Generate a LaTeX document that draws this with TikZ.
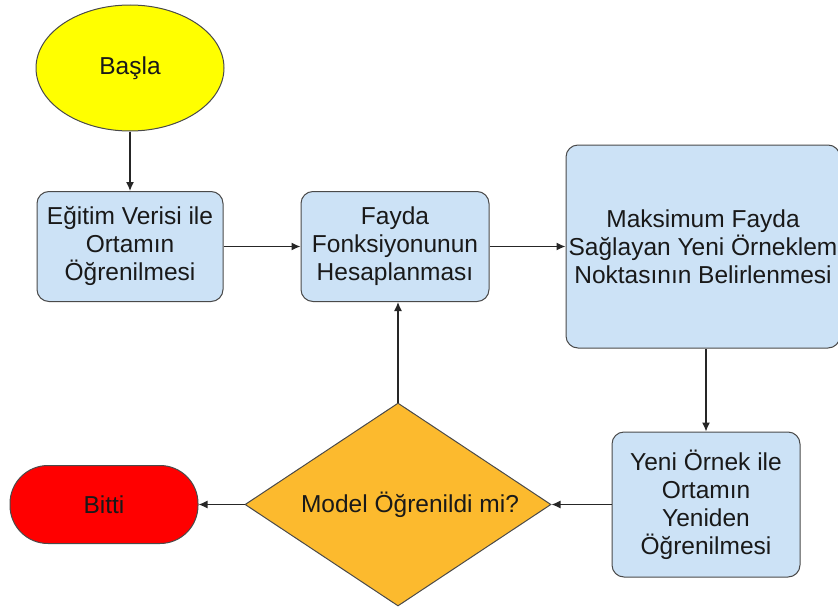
\documentclass[tikz,border=0pt]{standalone}
\usepackage{fontspec}
\setmainfont{Liberation Sans}
\usetikzlibrary{shapes.geometric,arrows.meta}
\definecolor{boxblue}{HTML}{CCE2F6}
\definecolor{edgegray}{HTML}{4A4A4A}
\definecolor{startyellow}{HTML}{FFFF00}
\definecolor{decorange}{HTML}{FCBA2E}
\definecolor{endred}{HTML}{FF0000}
\begin{document}
\begin{tikzpicture}[x=1pt,y=-1pt,
  every node/.style={font=\fontsize{24.5}{28}\selectfont, text=black!90, inner sep=0pt, align=center},
  procbox/.style={rectangle, rounded corners=12pt, draw=edgegray, line width=1pt, fill=boxblue},
  arr/.style={-{Latex[length=9pt,width=8pt]}, line width=1.3pt, black!85}]
\useasboundingbox (0,0) rectangle (838,613);
\node[ellipse, draw=edgegray, line width=1pt, fill=startyellow, minimum width=188pt, minimum height=126pt] (start) at (130,68) {Başla};
\node[procbox, minimum width=186pt, minimum height=110pt] (b1) at (130,246.5) {Eğitim Verisi ile\\Ortamın\\Öğrenilmesi};
\node[procbox, minimum width=188pt, minimum height=110pt] (b2) at (395,246.5) {Fayda\\Fonksiyonunun\\Hesaplanması};
\node[procbox, minimum width=274pt, minimum height=203pt] (b3) at (703,246.5) {Maksimum Fayda\\Sağlayan Yeni Örneklem\\Noktasının Belirlenmesi};
\node[procbox, minimum width=188pt, minimum height=145pt] (b4) at (706,504.5) {Yeni Örnek ile\\Ortamın\\Yeniden\\Öğrenilmesi};
\node[diamond, draw=edgegray, line width=1pt, fill=decorange, minimum width=306pt, minimum height=203pt] (dec) at (398,504.5) {};
\node (dectext) at (410,504.5) {Model Öğrenildi mi?};
\node[rectangle, rounded corners=38pt, draw=edgegray, line width=1pt, fill=endred, minimum width=188pt, minimum height=78pt] (end) at (104,504.5) {Bitti};
\draw[arr] (start.south) -- (b1.north);
\draw[arr] (b1.east) -- (b2.west);
\draw[arr] (b2.east) -- (b3.west);
\draw[arr] (b4.north |- b3.south) -- (b4.north);
\draw[arr] (b4.west) -- (dec.east);
\draw[arr] (dec.west) -- (end.east);
\draw[arr] (dec.north) -- (dec.north |- b2.south);
\end{tikzpicture}
\end{document}
